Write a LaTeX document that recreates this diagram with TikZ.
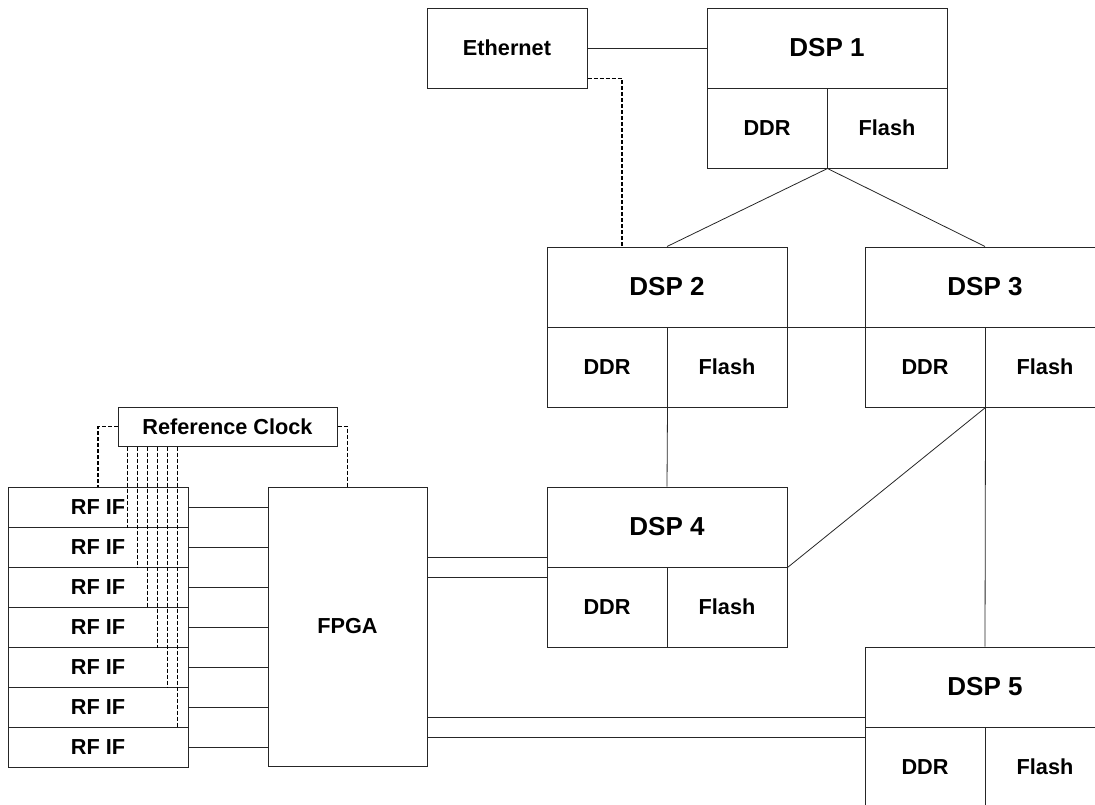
\documentclass[tikz,border=0pt]{standalone}
\usepackage{fontspec}
\setmainfont{Liberation Sans}
\begin{document}
\begin{tikzpicture}[x=1pt,y=-1pt,
  box/.style={draw=black!85,line width=1pt,rectangle,inner sep=0pt,
    font=\fontsize{21.7}{24}\selectfont\bfseries},
  big/.style={font=\fontsize{26}{30}\selectfont\bfseries},
  wire/.style={draw=black!85,line width=0.8pt},
  dsh/.style={draw=black,line width=1.5pt,dash pattern=on 4pt off 2pt}]
\useasboundingbox (0,0) rectangle (1095,804);
\clip (0,0) rectangle (1095,804);
\newcommand\dspblk[4]{%
  \node[box,big,minimum width=240pt,minimum height=80pt] (#1t) at (#2+120,#3+40) {#4};
  \node[box,minimum width=120pt,minimum height=80pt] (#1d) at (#2+60,#3+120) {DDR};
  \node[box,minimum width=120pt,minimum height=80pt] (#1f) at (#2+180,#3+120) {Flash};}
\dspblk{dspa}{707}{8}{DSP 1}
\dspblk{dspb}{547}{247}{DSP 2}
\dspblk{dspc}{865}{247}{DSP 3}
\dspblk{dspd}{547}{487}{DSP 4}
\dspblk{dspe}{865}{647}{DSP 5}
\node[box,minimum width=160pt,minimum height=80pt] (eth) at (507,48) {Ethernet};
\node[box,minimum width=159pt,minimum height=279pt] (fpga) at (347.5,626.5) {FPGA};
\node[box,minimum width=219pt,minimum height=39pt] (rc) at (227.5,426.5) {Reference Clock};
\foreach \i in {1,...,7}{
  \node[box,minimum width=180pt,minimum height=40pt] (rf\i) at (98,467+40*\i) {RF IF};
  \draw[wire] (rf\i.east) -- (rf\i.east -| fpga.west);
}
% Ethernet and DSP links
\draw[wire] (eth.east) -- (dspat.west);
\draw[dsh] ([yshift=10pt]eth.south east) -| ([xshift=-45pt]dspbt.north);
\draw[wire] (dspad.south east) -- (dspbt.north);
\draw[wire] (dspad.south east) -- (dspct.north);
\draw[wire] (dspbt.south east) -- (dspct.south west);
\draw[wire] (dspbd.south east) -- (dspdt.north);
\draw[wire] (dspcd.south east) -- (dspdt.south east);
\draw[wire] (dspcd.south east) -- (dspet.north);
% FPGA to DSPs
\coordinate (p1) at ([yshift=10pt]dspdt.south west);
\coordinate (p2) at ([yshift=-10pt]dspdt.south west);
\draw[wire] (p1) -- (p1 -| fpga.east);
\draw[wire] (p2) -- (p2 -| fpga.east);
\coordinate (q1) at ([yshift=10pt]dspet.south west);
\coordinate (q2) at ([yshift=-10pt]dspet.south west);
\draw[wire] (q1) -- (q1 -| fpga.east);
\draw[wire] (q2) -- (q2 -| fpga.east);
% Reference clock
\draw[dsh] (rc.west) -| (rf1.north);
\draw[dsh] (rc.east) -| (fpga.north);
\foreach \k in {1,...,6}{
  \coordinate (c\k) at ([xshift=\k*10pt]rc.south west);
  \draw[dsh] (c\k) -- (c\k |- rf\k.south);
}
\end{tikzpicture}
\end{document}
